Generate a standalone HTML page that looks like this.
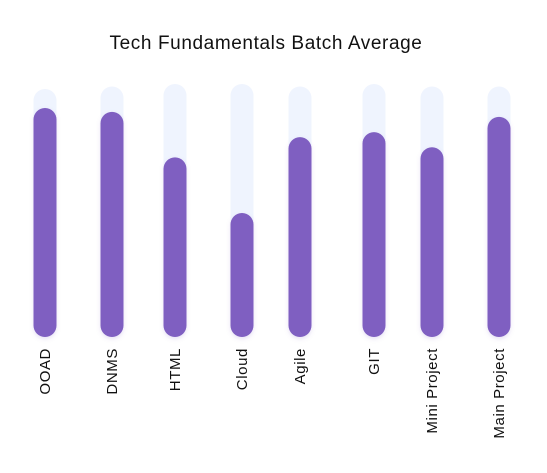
<!DOCTYPE html>
<html><head><meta charset="utf-8"><style>
body{margin:0;background:#fff;}
svg{display:block;font-family:"Liberation Sans",sans-serif;}
</style></head><body>
<svg id="c" width="547" height="473">
<defs><filter id="sh" x="-50%" y="-10%" width="200%" height="120%"><feDropShadow dx="0" dy="2" stdDeviation="2" flood-color="#7b5cc4" flood-opacity="0.18"/></filter></defs>
<text x="266" y="49" text-anchor="middle" font-size="19" letter-spacing="0.6" fill="#111">Tech Fundamentals Batch Average</text>
<g id="bars"></g>
</svg>
<script>
const categories=["OOAD","DNMS","HTML","Cloud","Agile","GIT","Mini Project","Main Project"];
const values=[90.5,89,71,49,79,81,75,87];
const maxValue=[98,99,100,100,99,100,99,99];
const centers=[45,112,175,242,300,374,432,499];
const baseY=337, topY=84;
const yScale=v=>baseY-(v/100)*(baseY-topY);
const g=document.getElementById('bars');
const ns='http://www.w3.org/2000/svg';
categories.forEach((c,i)=>{
  const cx=centers[i], w=23;
  const t=document.createElementNS(ns,'rect');
  t.setAttribute('x',cx-w/2);t.setAttribute('y',yScale(maxValue[i]));
  t.setAttribute('width',w);t.setAttribute('height',baseY-yScale(maxValue[i]));
  t.setAttribute('rx',11.5);t.setAttribute('fill','#eff4fe');
  
  
  g.appendChild(t);
  const b=document.createElementNS(ns,'rect');
  b.setAttribute('x',cx-w/2);b.setAttribute('y',yScale(values[i]));
  b.setAttribute('width',w);b.setAttribute('height',baseY-yScale(values[i]));
  b.setAttribute('rx',11.5);b.setAttribute('fill','#7f5fc1');b.setAttribute('filter','url(#sh)');
  
  
  g.appendChild(b);
  const l=document.createElementNS(ns,'text');
  l.setAttribute('transform','translate('+(cx+5)+',348) rotate(-90)');
  l.setAttribute('text-anchor','end');l.setAttribute('font-size','15');l.setAttribute('letter-spacing','0.6');l.setAttribute('fill','#111');
  l.textContent=c;
  
  
  g.appendChild(l);
});
</script>
</body></html>
